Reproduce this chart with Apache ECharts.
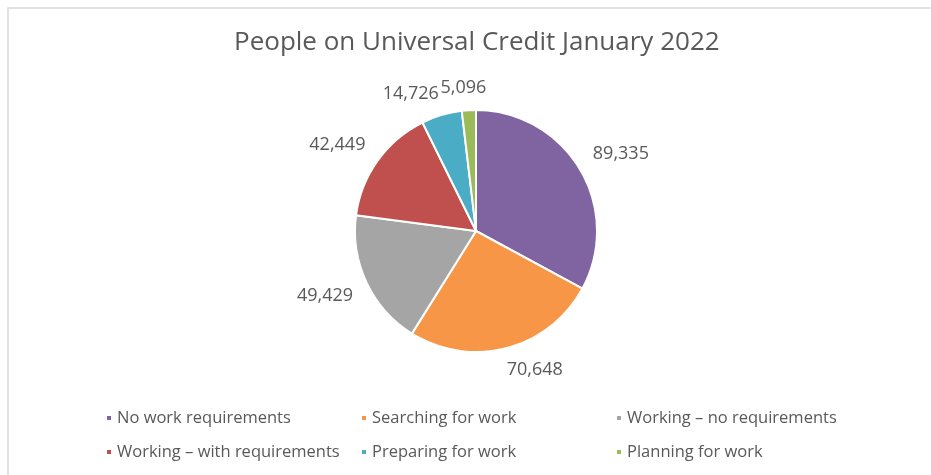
<!DOCTYPE html>
<html>
<head>
<meta charset="utf-8">
<script src="https://cdn.jsdelivr.net/npm/echarts@6/dist/echarts.min.js"></script>
<style>
  html, body { margin: 0; padding: 0; background: #ffffff; }
  #chart { width: 931px; height: 475px; }
</style>
</head>
<body>
<div id="chart"></div>
<script>
// Universal Credit claimants by conditionality regime, January 2022
const chartTitle = 'People on Universal Credit January 2022';
const categories = [
  'No work requirements',
  'Searching for work',
  'Working – no requirements',
  'Working – with requirements',
  'Preparing for work',
  'Planning for work'
];
const values = [89335, 70648, 49429, 42449, 14726, 5096];
const sliceColors = ['#8064A2', '#F79646', '#A5A5A5', '#C0504D', '#4BACC6', '#9BBB59'];

const FONT = '"Open Sans", "DejaVu Sans", sans-serif';
const TEXT_COLOR = '#595959';

// Place each value label just beyond the rim, pushing its box outward
// along the slice's mid-angle so the nearest corner sits a fixed gap away.
function placeLabel(params) {
  const pts = params.labelLinePoints;
  const rect = params.labelRect;
  if (!pts || !rect) return {};
  let dx = pts[1][0] - pts[0][0];
  let dy = pts[1][1] - pts[0][1];
  const len = Math.hypot(dx, dy) || 1;
  dx /= len; dy /= len;
  const gap = 15;
  const clamp = v => Math.max(-1, Math.min(1, v));
  const hw = rect.width / 2;
  const hh = rect.height / 2 - 2;
  return {
    x: pts[0][0] + dx * gap + hw * clamp(dx / 0.3),
    y: pts[0][1] + dy * gap + hh * clamp(dy / 0.3),
    align: 'center',
    verticalAlign: 'middle'
  };
}

const chart = echarts.init(document.getElementById('chart'), null, { renderer: 'canvas' });

chart.setOption({
  backgroundColor: '#ffffff',
  animation: false,
  color: sliceColors,
  title: {
    text: chartTitle,
    left: 234,
    top: 30,
    padding: 0,
    textStyle: {
      fontFamily: FONT,
      fontSize: 26,
      fontWeight: 'normal',
      color: TEXT_COLOR
    }
  },
  legend: {
    data: categories,
    orient: 'horizontal',
    left: 105,
    top: 406,
    width: 780,
    padding: 0,
    itemGap: 10,
    itemWidth: 6,
    itemHeight: 6,
    icon: 'rect',
    selectedMode: false,
    textStyle: {
      fontFamily: FONT,
      fontSize: 16.5,
      color: TEXT_COLOR,
      width: 233,
      lineHeight: 24
    }
  },
  graphic: [{
    type: 'rect',
    silent: true,
    shape: { x: 8, y: 8, width: 960, height: 500 },
    style: { fill: 'none', stroke: '#d9d9d9', lineWidth: 1.5 }
  }],
  series: [{
    type: 'pie',
    center: [476, 231],
    radius: 121,
    startAngle: 90,
    clockwise: true,
    avoidLabelOverlap: false,
    emphasis: { disabled: true },
    itemStyle: { borderColor: '#ffffff', borderWidth: 2 },
    label: {
      show: true,
      position: 'outside',
      fontFamily: FONT,
      fontSize: 18,
      color: TEXT_COLOR,
      formatter: p => p.value.toLocaleString('en-US')
    },
    labelLine: {
      show: true,
      length: 10,
      length2: 0,
      lineStyle: { opacity: 0 }
    },
    labelLayout: placeLabel,
    data: categories.map((name, i) => ({ name: name, value: values[i] }))
  }]
});
</script>
</body>
</html>
